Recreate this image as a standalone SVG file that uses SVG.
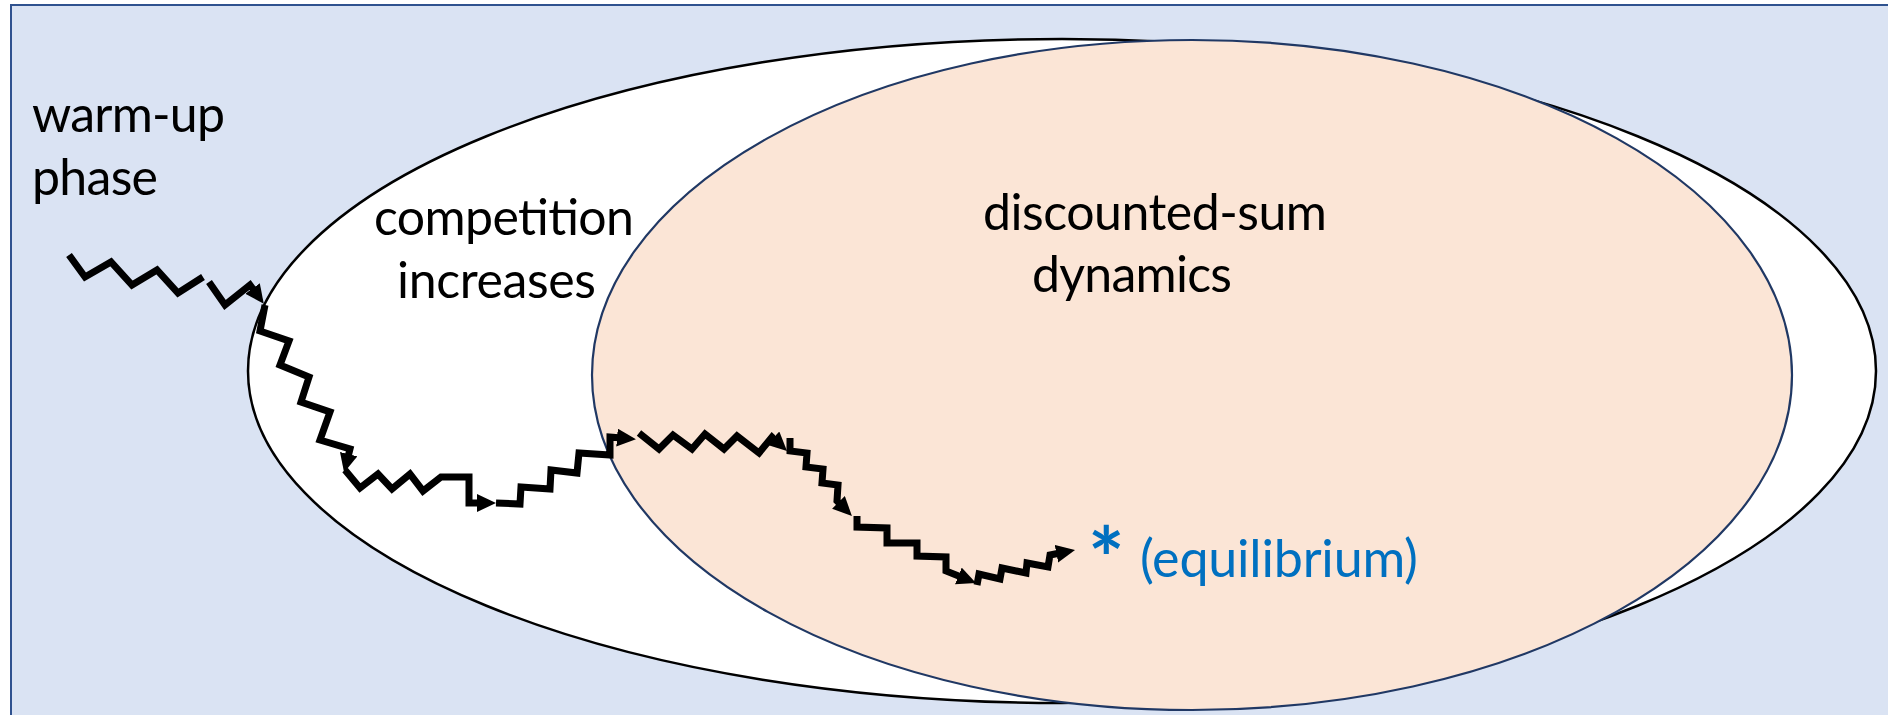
<svg xmlns="http://www.w3.org/2000/svg" width="1888" height="715" viewBox="0 0 1888 715">
<style>
.lbl{font-family:Lato,"Liberation Sans",sans-serif;font-size:50px;fill:#000}
.eq{font-family:Lato,"Liberation Sans",sans-serif;fill:#0070C0}
.zz{fill:none;stroke:#000;stroke-width:7;stroke-linejoin:miter;stroke-miterlimit:10;marker-end:url(#ah)}
</style>
<defs>
<marker id="ah" markerUnits="userSpaceOnUse" markerWidth="24" markerHeight="24" refX="5" refY="9" orient="auto">
<path d="M0,0 L19,9 L0,18 z" fill="#000"/>
</marker>
</defs>
<g id="background">
<rect x="11" y="5" width="1890" height="720" fill="#DAE3F3" stroke="#2F528F" stroke-width="2"/>
</g>
<g id="competition-region">
<ellipse cx="1062" cy="371" rx="814" ry="332" fill="#FFFFFF" stroke="#000" stroke-width="2.5"/>
</g>
<g id="discounted-region">
<ellipse cx="1192" cy="375" rx="600" ry="335" fill="#FBE5D6" stroke="#203864" stroke-width="2.2"/>
</g>
<g id="labels">
<text class="lbl" x="32" y="132" textLength="193">warm-up</text>
<text class="lbl" x="32" y="195" textLength="126">phase</text>
<text class="lbl" x="374" y="235" textLength="260">competition</text>
<text class="lbl" x="397" y="298" textLength="199">increases</text>
<text class="lbl" x="983" y="230" textLength="344">discounted-sum</text>
<text class="lbl" x="1032" y="292" textLength="200">dynamics</text>
</g>
<g id="equilibrium">
<text class="eq" x="1088" y="590" font-size="86" font-weight="bold">*</text>
<text class="eq" x="1140" y="577" font-size="52" textLength="278">(equilibrium)</text>
</g>
<g id="connectors">
<path class="zz" d="M69,255 L85,277 L111,262 L132,285 L157,270 L178,293 L203,277 M209,282 L225,305 L250,285 L255.5,292.5"/>
<path class="zz" d="M265,305 L260,331 L289,341 L280,365 L309,377 L301,402 L330,412 L320,440 L350,449 L347.5,459"/>
<path class="zz" d="M345,470 L360,488 L378,474 L392,489 L410,474 L423,491 L441,477 L469,477 L469,503 L482,503"/>
<path class="zz" d="M496,503 L520,504 L521,487 L550,489 L551,470 L577,473 L579,453 L610,455 L610,437 L622,438"/>
<path class="zz" d="M639,433 L659,449 L673,435 L692,449 L705,434 L724,449 L737,436 L759,453 L772,437 L776.8,441.5"/>
<path class="zz" d="M790,438 L790,451 L807,453 L806,467 L823,469 L822,483 L838,485 L837,501 L842,506"/>
<path class="zz" d="M857,516 L857,527 L887,528 L887,543 L917,543 L917,556 L946,557 L946,571 L963,577.8"/>
<path class="zz" d="M977,585 L979,574 L1000,579 L1002,568 L1026,573 L1027,563 L1048,567 L1050,555 L1061.3,552.8"/>
</g>
</svg>
